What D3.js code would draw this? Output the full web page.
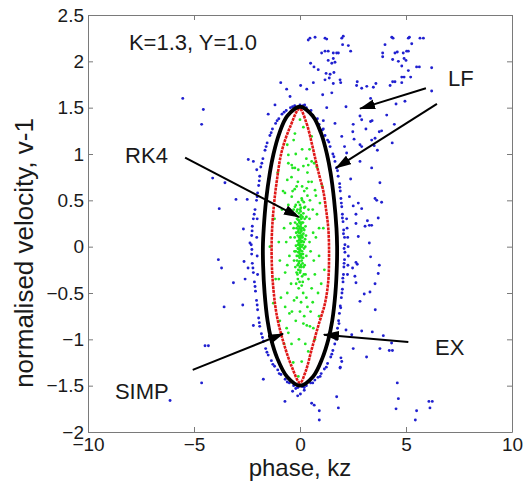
<!DOCTYPE html>
<html>
<head>
<meta charset="utf-8">
<script src="https://cdn.jsdelivr.net/npm/d3@7"></script>
<style>
  body { margin: 0; background: #fff; }
  text { font-family: "Liberation Sans", Arial, sans-serif; fill: #1a1a1a; }
</style>
</head>
<body>
<script>
// axis ticks
var xTicks = [-10, -5, 0, 5, 10];
var yTicks = [-2, -1.5, -1, -0.5, 0, 0.5, 1, 1.5, 2, 2.5];

// EX separatrix (black), closed loop
var exCurve = [
  [0, 1.51], [0.6, 1.41], [1.0, 1.22], [1.27, 1.0], [1.44, 0.8], [1.61, 0.5], [1.72, 0.2],
  [1.75, 0.0], [1.74, -0.2], [1.67, -0.5], [1.52, -0.8], [1.34, -1.0], [1.06, -1.2], [0.62, -1.4],
  [0, -1.5], [-0.62, -1.4], [-1.08, -1.2], [-1.36, -1.0], [-1.53, -0.8], [-1.67, -0.5],
  [-1.74, -0.2], [-1.75, 0.0], [-1.71, 0.2], [-1.6, 0.5], [-1.42, 0.8], [-1.25, 1.0],
  [-0.98, 1.22], [-0.6, 1.41]
];

// SIMP (red), closed loop
var simpCurve = [
  [-0.02, 1.49], [0.31, 1.33], [0.55, 1.12], [0.74, 0.93], [0.93, 0.75], [1.1, 0.6],
  [1.23, 0.4], [1.34, 0.18], [1.37, -0.1], [1.33, -0.38], [1.17, -0.62], [0.88, -0.84],
  [0.56, -1.1], [0.26, -1.35], [0, -1.47], [-0.38, -1.3], [-0.77, -1.04], [-1.08, -0.76],
  [-1.25, -0.47], [-1.33, -0.18], [-1.33, 0.11], [-1.25, 0.4], [-1.1, 0.7], [-0.86, 1.03],
  [-0.47, 1.29]
];

// LF (blue) points hugging the separatrix
var lfRing = [
  [0, 1.53], [0.15, 1.52], [0.3, 1.5], [0.45, 1.46], [0.6, 1.42], [0.75, 1.37], [0.9, 1.32],
  [1.05, 1.26], [1.18, 1.2], [1.3, 1.15], [1.42, 1.08], [1.55, 1.0], [1.65, 0.92], [1.72, 0.85],
  [1.8, 0.76], [1.87, 0.68], [1.9, 0.6], [1.93, 0.52], [1.97, 0.43], [2.0, 0.35], [2.03, 0.27],
  [2.06, 0.18], [2.1, 0.1], [2.12, 0.02], [2.12, -0.06], [2.1, -0.14], [2.07, -0.22],
  [2.05, -0.3], [2.03, -0.38], [2.0, -0.46], [1.95, -0.55], [1.9, -0.64], [1.86, -0.72],
  [1.82, -0.8], [1.77, -0.88], [1.72, -0.96], [1.64, -1.05], [1.55, -1.12], [1.45, -1.19],
  [1.3, -1.26], [1.15, -1.32], [1.0, -1.37], [0.85, -1.41], [0.7, -1.44], [0.5, -1.47],
  [0.3, -1.5], [0.1, -1.51], [-0.1, -1.52], [-0.3, -1.5], [-0.5, -1.47], [-0.7, -1.43],
  [-0.9, -1.38], [-1.05, -1.33], [-1.2, -1.29], [-1.35, -1.23], [-1.5, -1.17], [-1.62, -1.1],
  [-1.72, -1.02], [-1.82, -0.94], [-1.9, -0.86], [-1.95, -0.77], [-2.0, -0.68], [-2.05, -0.58],
  [-2.1, -0.48], [-2.15, -0.38], [-2.2, -0.28], [-2.25, -0.18], [-2.28, -0.08], [-2.3, 0.02],
  [-2.28, 0.12], [-2.25, 0.22], [-2.2, 0.3], [-2.12, 0.4], [-2.05, 0.5], [-2.0, 0.58],
  [-1.95, 0.66], [-1.9, 0.76], [-1.85, 0.86], [-1.75, 0.95], [-1.65, 1.04], [-1.55, 1.12],
  [-1.42, 1.2], [-1.3, 1.27], [-1.15, 1.33], [-1.0, 1.38], [-0.85, 1.43], [-0.65, 1.47],
  [-0.45, 1.5], [-0.25, 1.52],
  [0.22, 1.53], [0.52, 1.47], [0.82, 1.38], [1.1, 1.27], [1.36, 1.13], [1.6, 0.97], [1.77, 0.82],
  [1.88, 0.64], [1.95, 0.47], [2.0, 0.31], [2.05, 0.14], [2.08, -0.02], [2.08, -0.18],
  [2.02, -0.34], [1.98, -0.5], [1.92, -0.66], [1.84, -0.83], [1.7, -1.0], [1.5, -1.16],
  [1.24, -1.3], [0.95, -1.4], [0.6, -1.47], [0.2, -1.52], [-0.2, -1.53], [-0.6, -1.46],
  [-0.98, -1.37], [-1.28, -1.27], [-1.56, -1.14], [-1.77, -0.98], [-1.92, -0.82], [-2.02, -0.63],
  [-2.12, -0.43], [-2.22, -0.23], [-2.27, -0.03], [-2.26, 0.17], [-2.16, 0.35], [-2.02, 0.54],
  [-1.92, 0.71], [-1.8, 0.9], [-1.6, 1.08], [-1.36, 1.23], [-1.08, 1.36], [-0.75, 1.45],
  [-0.35, 1.51],
  [2.2, 0.3], [2.22, 0.2], [2.25, 0.1], [2.27, 0.0], [2.28, -0.1], [2.26, -0.2], [2.24, -0.3],
  [-2.02, 0.3], [-2.04, 0.1], [-2.02, -0.1], [-2.0, -0.3], [1.93, -1.2], [1.9, -1.3]
];

// LF (blue) scattered points
var lfScatter = [
  [0.39, 2.23], [0.47, 2.25], [0.71, 2.26], [1.18, 2.25], [1.26, 2.24], [1.97, 2.25], [2.04, 2.27],
  [2.01, 2.18], [2.28, 2.17], [2.39, 2.11], [1.02, 2.09], [1.18, 2.11], [1.33, 2.11], [1.57, 2.09],
  [1.73, 2.09], [1.81, 2.09], [1.33, 2.01], [1.57, 2.03], [1.65, 1.99], [1.5, 1.98], [0.5, 1.98],
  [0.66, 1.94], [0.86, 1.91], [1.23, 1.87], [1.42, 1.86], [1.6, 1.88], [1.18, 1.8], [1.38, 1.82],
  [1.57, 1.76], [1.89, 1.8], [1.92, 1.77], [0.63, 1.77], [0.32, 1.7], [0.03, 1.74], [-0.91, 1.77],
  [-0.63, 1.7], [1.07, 1.64], [1.5, 1.66], [-0.47, 1.62], [-1.18, 1.53], [2.7, 1.78], [2.67, 1.74],
  [2.91, 1.71], [3.15, 1.73], [3.46, 1.72], [3.58, 1.76], [2.17, 1.51], [1.26, 1.5], [-1.5, 1.43],
  [1.1, 1.36], [1.65, 1.33], [2.91, 1.37], [2.51, 1.32],
  [4.33, 2.26], [4.39, 2.25], [5.11, 2.25], [5.16, 2.26], [5.66, 2.25], [5.82, 2.25], [4.01, 2.18],
  [5.27, 2.19], [3.9, 2.09], [4.48, 2.09], [4.59, 2.1], [4.87, 2.09], [5.03, 2.11], [5.11, 2.11],
  [3.9, 2.05], [4.37, 2.02], [4.64, 2.0], [4.91, 2.03], [5.0, 2.01], [4.8, 1.95], [5.5, 1.94],
  [5.63, 1.94], [6.21, 1.93], [5.11, 1.9], [4.8, 1.83], [4.91, 1.83], [5.22, 1.83], [4.37, 1.78],
  [4.48, 1.78], [4.25, 1.74], [4.8, 1.77], [6.21, 1.68], [4.95, 1.57], [4.53, 1.54], [3.33, 1.6],
  [4.09, 1.42], [2.83, 1.41], [3.33, 1.35], [3.4, 1.36], [4.45, 1.32], [3.11, 1.27], [2.49, 1.24],
  [3.74, 1.24], [3.85, 1.25], [3.54, 1.17], [3.38, 1.15], [2.55, 1.16], [2.83, 1.1], [2.91, 1.08],
  [4.35, 1.12], [3.5, 1.09], [3.65, 1.04], [2.2, 1.01], [2.83, 0.92], [3.38, 0.85], [1.97, 1.19],
  [2.1, 1.08],
  [2.39, 0.73], [3.77, 0.69], [2.33, 0.54], [3.54, 0.52], [3.62, 0.5], [3.85, 0.48], [2.51, 0.44],
  [2.75, 0.47], [2.91, 0.41], [3.69, 0.31], [2.64, 0.35], [3.18, 0.28], [3.27, 0.23], [3.38, 0.23],
  [3.07, 0.22], [2.64, 0.25], [2.75, 0.11], [3.27, 0.04], [3.33, -0.11], [2.64, -0.17], [2.7, -0.19],
  [3.74, -0.2], [2.48, -0.23], [3.69, -0.29], [2.59, -0.32], [2.64, -0.39], [3.54, -0.4],
  [3.3, -0.49], [3.03, -0.51], [2.83, -0.59], [3.55, -0.68], [2.17, -0.9], [2.91, -0.91],
  [3.41, -0.92], [2.44, -0.95], [3.93, -0.96], [4.32, -1.04], [2.51, -1.1], [3.77, -1.1],
  [4.21, -1.12], [4.36, -1.12], [3.14, -1.19], [1.97, -1.24], [1.89, -1.31],
  [-0.71, -1.67], [-0.11, -1.61], [0.02, -1.59], [0.2, -1.55], [0.55, -1.69], [0.67, -1.71],
  [0.91, -1.77], [0.91, -1.87], [1.73, -1.62], [1.81, -1.74], [-1.73, -1.43], [-0.35, -1.56],
  [4.59, -1.47], [4.64, -1.64], [4.53, -1.75], [5.5, -1.77], [5.44, -1.87], [6.08, -1.67],
  [6.24, -1.67], [6.13, -1.74],
  [-5.53, 1.6], [-4.56, 1.48], [-4.64, 1.32], [-2.44, 0.94], [-2.2, 0.92], [-2.04, 0.83],
  [-4.12, 0.74], [-3.54, 0.69], [-3.02, 0.51], [-2.49, 0.51], [-3.81, 0.41], [-2.67, 0.19],
  [-2.36, 0.04], [-3.85, -0.14], [-3.7, -0.23], [-2.64, -0.16], [-2.45, -0.23], [-2.59, -0.35],
  [-3.14, -0.39], [-3.58, -0.65], [-2.7, -0.63], [-2.2, -0.85], [-4.48, -1.07], [-4.32, -1.07],
  [-4.64, -1.47], [-6.13, -1.66]
];

// RK4 (green) points
var rk4Points = [
  [0, 0], [0.05, 0.05], [-0.05, 0.1], [0.1, -0.05], [-0.1, -0.02], [0.02, 0.15], [-0.02, -0.12],
  [0.08, 0.2], [-0.08, 0.22], [0.12, 0.1], [-0.12, 0.06], [0.04, -0.2], [-0.06, -0.18], [0.15, -0.12],
  [-0.15, -0.1], [0.18, 0.05], [-0.18, 0.15], [0.06, 0.3], [-0.04, 0.28], [0.14, 0.26], [-0.14, 0.3],
  [0.2, 0.18], [-0.2, -0.05], [0.22, -0.2], [-0.22, -0.22], [0.0, -0.28], [0.1, -0.32], [-0.1, -0.35],
  [0.25, 0.0], [-0.25, 0.1], [0.03, 0.38], [-0.12, 0.4], [0.16, 0.36], [0.28, 0.12], [-0.28, -0.15],
  [0.3, -0.1], [-0.3, 0.2], [0.0, 0.08], [0.06, -0.08], [-0.04, 0.02], [0.02, -0.04], [-0.08, -0.06],
  [0.1, 0.12], [-0.02, 0.2], [0.04, 0.24], [-0.1, 0.16], [0.12, -0.18], [-0.16, -0.28], [0.18, -0.3],
  [0.0, 0.45], [0.2, 0.42], [-0.2, 0.45], [0.08, -0.42], [-0.06, -0.45], [0.22, 0.3], [-0.24, 0.35],
  [0.07, 0.12], [-0.07, -0.1], [0.01, 0.32], [-0.01, -0.22], [0.13, 0.02], [-0.13, 0.24],
  [0.03, 0.05], [-0.03, 0.07], [0.06, 0.1], [-0.06, 0.04], [0.09, 0.0], [-0.09, 0.02], [0.01, 0.12],
  [-0.01, -0.02], [0.04, -0.1], [-0.04, -0.06], [0.11, 0.06], [-0.11, 0.12], [0.07, 0.17],
  [-0.07, 0.18], [0.02, 0.22], [-0.03, 0.26], [0.09, 0.26], [-0.09, 0.29], [0.05, 0.34],
  [-0.05, 0.36], [0.12, 0.32], [-0.16, 0.2], [0.16, 0.14], [-0.14, -0.15], [0.14, -0.08],
  [0.08, -0.15], [-0.03, -0.16], [0.02, -0.26], [-0.08, -0.25], [0.06, -0.22], [0.17, -0.22],
  [-0.19, 0.01], [0.19, -0.02], [-0.12, -0.3], [0.13, -0.38], [-0.02, -0.38], [0.04, 0.42],
  [-0.08, 0.48], [0.1, 0.5], [0.24, 0.08], [-0.23, 0.26], [0.26, 0.22], [-0.26, -0.05],
  [0.02, 0.02], [-0.05, -0.03], [0.08, 0.06], [-0.02, 0.1], [0.05, 0.18], [-0.05, 0.15],
  [0.0, 0.26], [0.0, -0.08], [0.11, -0.12], [-0.11, -0.2], [0.15, 0.2], [-0.15, 0.38],
  [0.18, 0.48], [-0.18, -0.4], [0.26, -0.3], [-0.3, 0.4], [0.3, 0.32],
  [0.35, 0.55], [-0.35, 0.6], [0.45, 0.3], [-0.45, 0.25], [0.5, -0.05], [-0.5, -0.1], [0.4, -0.35],
  [-0.42, -0.4], [0.3, -0.55], [-0.28, -0.58], [0.55, 0.7], [-0.6, 0.72], [0.1, 0.65], [-0.1, 0.7],
  [0.62, 0.15], [-0.65, 0.05], [0.7, -0.3], [-0.7, -0.28], [0.05, -0.6], [0.5, -0.7], [-0.5, -0.72],
  [0.2, -0.75], [-0.2, -0.8], [0.8, 0.35], [-0.85, 0.4], [0.9, -0.1], [-0.95, -0.15], [0.75, 0.55],
  [-0.8, 0.6], [0.85, -0.5], [-0.9, -0.55], [0.35, 0.8], [-0.35, 0.85],
  [0.6, 0.4], [-0.55, 0.45], [0.4, 0.7], [-0.4, 0.75], [0.2, 0.6], [-0.25, 0.62], [0.65, -0.15],
  [-0.6, -0.2], [0.55, -0.45], [-0.6, -0.5], [0.35, -0.65], [-0.38, -0.7], [0.15, -0.5],
  [-0.15, -0.55], [0.75, 0.1], [-0.75, 0.2], [0.9, 0.2], [-1.0, 0.05], [1.0, -0.4], [-1.0, -0.35],
  [0.0, -0.7], [0.6, -0.6], [-0.7, -0.65], [0.4, 0.4], [-0.45, 0.1], [0.45, 0.05], [0.3, 0.95],
  [-0.2, 1.0], [0.1, 1.05], [-0.05, -1.0],
  [-0.55, 0.9], [-0.39, 0.88], [-0.24, 0.85], [-0.08, 0.83], [0.16, 0.87], [0.39, 0.88],
  [0.55, 0.92], [0.67, 0.9], [0.79, 0.86], [-0.55, 0.99], [0.55, 1.19], [0, 1.37], [-0.24, 1.22],
  [0.16, 1.29], [-0.16, 0.65], [0.32, 0.63], [-0.39, 0.54], [0.08, 0.52], [0.47, 0.5], [-0.24, 0.43],
  [0, 0.4], [0.24, 0.43], [0.71, 0.61], [-0.71, 0.58], [0.94, 0.47],
  [-0.63, -0.88], [-0.55, -0.93], [0.16, -0.83], [0.32, -0.85], [0.47, -0.86], [0.63, -0.88],
  [0.39, -1.13], [-0.32, -1.25], [0.08, -1.24], [-0.08, -1.4],
  [-1.42, 0.0], [-1.2, 0.3], [-1.15, -0.35], [-1.26, -0.61], [1.1, 0.2], [1.15, -0.25],
  [1.05, 0.65], [-1.05, 0.8], [0.9, -0.75], [-0.95, -0.8], [-0.6, 1.1], [0.45, 1.05],
  [-0.3, 1.15], [0.25, -1.05], [-0.4, -1.05], [0.7, -1.0], [-0.75, -1.05]
];

// annotations: label positions, arrow start and tip
var labels = [
  { text: "K=1.3, Y=1.0", at: [-8.07, 2.12] },
  { text: "RK4", at: [-8.25, 0.9] },
  { text: "LF", at: [6.98, 1.73] },
  { text: "EX", at: [6.37, -1.17] },
  { text: "SIMP", at: [-8.73, -1.64] }
];
var arrows = [
  { from: [-5.42, 0.96], to: [-0.05, 0.32] },
  { from: [5.94, 1.71], to: [2.83, 1.49] },
  { from: [6.46, 1.54], to: [1.7, 0.85] },
  { from: [5.11, -1.03], to: [1.13, -0.95] },
  { from: [-5.06, -1.33], to: [-0.8, -0.94] }
];

var margin = { top: 15, right: 11, bottom: 58, left: 88 };
var svgWidth = 523, svgHeight = 490;
var chartWidth = svgWidth - margin.left - margin.right;
var chartHeight = svgHeight - margin.top - margin.bottom;

var svg = d3.select("body").append("svg")
    .attr("width", svgWidth)
    .attr("height", svgHeight);

svg.append("defs").append("marker")
    .attr("id", "head")
    .attr("markerUnits", "userSpaceOnUse")
    .attr("viewBox", "0 0 16 10")
    .attr("markerWidth", 16)
    .attr("markerHeight", 10)
    .attr("refX", 15)
    .attr("refY", 5)
    .attr("orient", "auto")
  .append("path")
    .attr("d", "M0,0 L16,5 L0,10 Z")
    .attr("fill", "#000");

var chartGroup = svg.append("g")
    .attr("transform", `translate(${margin.left}, ${margin.top})`);

var x = d3.scaleLinear().domain([-10, 10]).range([0, chartWidth]);
var y = d3.scaleLinear().domain([-2, 2.5]).range([chartHeight, 0]);

// axes, ticks pointing inward like matlab
function styleAxis(g) {
  g.selectAll("path, line").attr("stroke", "#7a7a7a");
  g.selectAll("text").style("font-size", "19px").attr("fill", "#1a1a1a")
    .style("font-family", '"Liberation Sans", Arial, sans-serif');
}
chartGroup.append("g")
    .attr("transform", "translate(0," + chartHeight + ")")
    .call(d3.axisBottom(x).tickValues(xTicks).tickSizeInner(-5).tickSizeOuter(0).tickPadding(6))
    .call(styleAxis);
chartGroup.append("g")
    .call(d3.axisLeft(y).tickValues(yTicks).tickSizeInner(-5).tickSizeOuter(0).tickPadding(4)
      .tickFormat(d3.format("")))
    .call(styleAxis);
chartGroup.append("g")
    .call(d3.axisTop(x).tickValues(xTicks).tickSizeInner(-5).tickSizeOuter(0).tickFormat(""))
    .call(styleAxis);
chartGroup.append("g")
    .attr("transform", "translate(" + chartWidth + ",0)")
    .call(d3.axisRight(y).tickValues(yTicks).tickSizeInner(-5).tickSizeOuter(0).tickFormat(""))
    .call(styleAxis);

// LF dots
chartGroup.append("g")
    .selectAll("circle")
    .data(lfScatter.concat(lfRing))
    .enter()
    .append("circle")
    .attr("cx", function (d) { return x(d[0]); })
    .attr("cy", function (d) { return y(d[1]); })
    .attr("r", 1.45)
    .style("fill", "#2020d0");

// RK4 dots
chartGroup.append("g")
    .selectAll("circle")
    .data(rk4Points)
    .enter()
    .append("circle")
    .attr("cx", function (d) { return x(d[0]); })
    .attr("cy", function (d) { return y(d[1]); })
    .attr("r", 1.4)
    .style("fill", "#22e622");

var loop = d3.line()
    .x(function (d) { return x(d[0]); })
    .y(function (d) { return y(d[1]); })
    .curve(d3.curveCatmullRomClosed.alpha(0.5));

// SIMP
chartGroup.append("path")
    .datum(simpCurve)
    .attr("d", loop)
    .attr("fill", "none")
    .attr("stroke", "#e01818")
    .attr("stroke-width", 2.6)
    .attr("stroke-dasharray", "3,0.8");

// EX
chartGroup.append("path")
    .datum(exCurve)
    .attr("d", loop)
    .attr("fill", "none")
    .attr("stroke", "#000")
    .attr("stroke-width", 3.8);

// arrows
chartGroup.append("g")
    .selectAll("line")
    .data(arrows)
    .enter()
    .append("line")
    .attr("x1", function (d) { return x(d.from[0]); })
    .attr("y1", function (d) { return y(d.from[1]); })
    .attr("x2", function (d) { return x(d.to[0]); })
    .attr("y2", function (d) { return y(d.to[1]); })
    .attr("stroke", "#000")
    .attr("stroke-width", 2)
    .attr("marker-end", "url(#head)");

// labels
chartGroup.append("g")
    .selectAll("text")
    .data(labels)
    .enter()
    .append("text")
    .text(function (d) { return d.text; })
    .attr("x", function (d) { return x(d.at[0]); })
    .attr("y", function (d) { return y(d.at[1]); })
    .style("font-size", "22px");

// axis titles
svg.append("text")
    .attr("x", margin.left + chartWidth / 2)
    .attr("y", 476)
    .style("text-anchor", "middle")
    .style("font-size", "24px")
    .text("phase, kz");
svg.append("text")
    .attr("transform", "translate(33," + 253 + ") rotate(-90)")
    .style("text-anchor", "middle")
    .style("font-size", "26px")
    .text("normalised velocity, v-1");
</script>
</body>
</html>
